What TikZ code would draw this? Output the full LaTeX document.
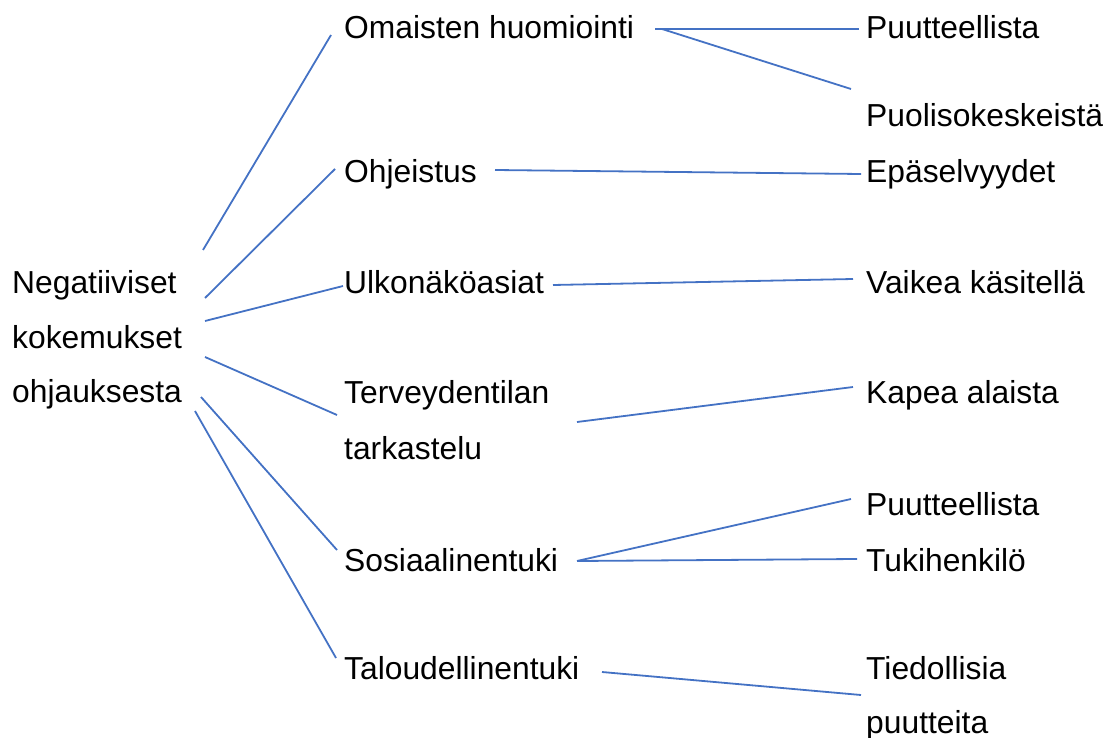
\documentclass[tikz,border=0pt]{standalone}
\usepackage{fontspec}
\setmainfont{Liberation Sans}
\usepackage{xcolor}
\definecolor{linkblue}{RGB}{68,114,196}

\begin{document}
\begin{tikzpicture}[x=1pt, y=-1pt,
    every node/.style={anchor=base west, inner sep=0pt, font=\fontsize{31.8}{54}\selectfont},
    ln/.style={draw=linkblue, line width=1.8pt}]

    \useasboundingbox (0, 0) rectangle (1106, 738);

    \node (a) at (12, 294) {Negatiiviset};
    \node (a2) at (12, 348) {kokemukset};
    \node (a3) at (12, 402) {ohjauksesta};

    \node (b) at (344, 39) {Omaisten huomiointi};
    \node (c) at (344, 183) {Ohjeistus};
    \node (d) at (344, 294) {Ulkonäköasiat};
    \node (e) at (344, 403) {Terveydentilan};
    \node (e2) at (344, 459) {tarkastelu};
    \node (f) at (344, 571) {Sosiaalinentuki};
    \node (g) at (344, 679) {Taloudellinentuki};

    \node (h) at (866, 39) {Puutteellista};
    \node (i) at (866, 127) {Puolisokeskeistä};
    \node (j) at (866, 183) {Epäselvyydet};
    \node (k) at (866, 294) {Vaikea käsitellä};
    \node (l) at (866, 403) {Kapea alaista};
    \node (m) at (866, 515) {Puutteellista};
    \node (n) at (866, 571) {Tukihenkilö};
    \node (o) at (866, 679) {Tiedollisia};
    \node (o2) at (866, 733) {puutteita};

    % ends of the connectors
    \coordinate (a1) at (203, 250);
    \coordinate (a4) at (205, 298);
    \coordinate (a5) at (205, 321);
    \coordinate (a6) at (205, 357);
    \coordinate (a7) at (201, 397);
    \coordinate (a8) at (195, 411);
    \coordinate (b1) at (331, 35);
    \coordinate (b2) at (655, 29);
    \coordinate (b3) at (662, 29);
    \coordinate (c1) at (335, 169);
    \coordinate (c2) at (495, 170);
    \coordinate (d1) at (343, 286);
    \coordinate (d2) at (553, 285);
    \coordinate (e1) at (337, 415);
    \coordinate (e3) at (577, 422);
    \coordinate (f1) at (337, 550);
    \coordinate (f2) at (577, 561);
    \coordinate (g1) at (336, 658);
    \coordinate (g2) at (602, 672);
    \coordinate (h1) at (859, 29);
    \coordinate (i1) at (851, 89);
    \coordinate (j1) at (861, 174);
    \coordinate (k1) at (853, 279);
    \coordinate (l1) at (853, 387);
    \coordinate (m1) at (851, 499);
    \coordinate (n1) at (857, 559);
    \coordinate (o1) at (861, 695);

    \draw [ln] (a1) to (b1);
    \draw [ln] (a4) to (c1);
    \draw [ln] (a5) to (d1);
    \draw [ln] (a6) to (e1);
    \draw [ln] (a7) to (f1);
    \draw [ln] (a8) to (g1);

    \draw [ln] (b2) to (h1);
    \draw [ln] (b3) to (i1);
    \draw [ln] (c2) to (j1);
    \draw [ln] (d2) to (k1);
    \draw [ln] (e3) to (l1);
    \draw [ln] (f2) to (m1);
    \draw [ln] (f2) to (n1);
    \draw [ln] (g2) to (o1);

\end{tikzpicture}
\end{document}
